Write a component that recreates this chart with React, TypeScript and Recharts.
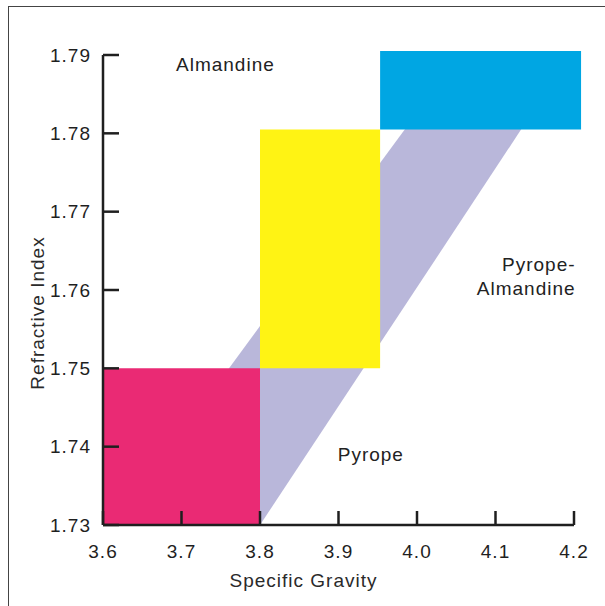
import {
  ComposedChart,
  Area,
  XAxis,
  YAxis,
  ReferenceArea,
  ReferenceDot,
} from "recharts";

// specific gravity / refractive index ranges of the garnet group
const SG_TICKS = [3.6, 3.7, 3.8, 3.9, 4.0, 4.1, 4.2];
const RI_TICKS = [1.73, 1.74, 1.75, 1.76, 1.77, 1.78, 1.79];

// pyrope-almandine band, corners
const BAND_SG = [3.614, 3.8, 3.986, 4.134];
const BAND_LOW = [1.73, 1.73, 1.7582, 1.7807];
const BAND_HIGH = [1.73, 1.7554, 1.7807, 1.7807];

const BOXES = [
  { name: "pyrope", sg: [3.6, 3.8], ri: [1.73, 1.75], color: "#ea2a74" },
  { name: "pyrope-almandine", sg: [3.8, 3.953], ri: [1.75, 1.7805], color: "#fff314" },
  { name: "almandine", sg: [3.953, 4.209], ri: [1.7805, 1.7905], color: "#00a6e3" },
];

const NOTES = [
  { sg: 3.693, ri: 1.788, text: "Almandine", anchor: "start" },
  { sg: 3.899, ri: 1.7382, text: "Pyrope", anchor: "start" },
  { sg: 4.202, ri: 1.7624, text: "Pyrope-", anchor: "end" },
  { sg: 4.202, ri: 1.7594, text: "Almandine", anchor: "end" },
];

const band = BAND_SG.map((sg, i) => ({ sg, ri: [BAND_LOW[i], BAND_HIGH[i]] }));

const INK = "#1f1f1f";
const FONT = { fontSize: 19, fill: INK };

export default function App() {
  return (
    <div
      style={{
        position: "absolute",
        left: 0,
        top: 0,
        width: 605,
        height: 606,
        background: "#fff",
        fontFamily: '"Liberation Sans", Arial, sans-serif',
        letterSpacing: 1,
      }}
    >
      <div
        style={{
          position: "absolute",
          left: 8,
          top: 6,
          right: 0,
          bottom: 0,
          borderTop: "1.5px solid #444",
          borderLeft: "1.5px solid #444",
        }}
      />
      <ComposedChart
        width={605}
        height={606}
        margin={{ top: 55, right: 31, left: 42, bottom: 21 }}
        style={{ position: "absolute", left: 0, top: 0 }}
      >
        <Area
          data={band}
          dataKey="ri"
          type="linear"
          fill="#b9b7da"
          fillOpacity={1}
          stroke="none"
          isAnimationActive={false}
        />
        {BOXES.map((b) => (
          <ReferenceArea
            key={b.name}
            x1={b.sg[0]}
            x2={b.sg[1]}
            y1={b.ri[0]}
            y2={b.ri[1]}
            fill={b.color}
            fillOpacity={1}
            stroke="none"
            ifOverflow="visible"
          />
        ))}
        {NOTES.map((n) => (
          <ReferenceDot
            key={n.text + n.ri}
            x={n.sg}
            y={n.ri}
            r={0}
            ifOverflow="visible"
            shape={(p: any) => (
              <text
                x={p.cx}
                y={p.cy}
                textAnchor={n.anchor as any}
                fontSize={19}
                fill="#222"
              >
                {n.text}
              </text>
            )}
          />
        ))}
        <XAxis
          dataKey="sg"
          type="number"
          domain={[3.6, 4.2]}
          ticks={SG_TICKS}
          allowDataOverflow
          tickFormatter={(v: number) => v.toFixed(1)}
          height={60}
          tick={FONT}
          tickSize={-14}
          tickMargin={34}
          axisLine={{ stroke: INK, strokeWidth: 2.5 }}
          tickLine={{ stroke: INK, strokeWidth: 2.5 }}
          label={{
            content: ({ viewBox }: any) => (
              <text
                x={viewBox.x + viewBox.width / 2 - 35}
                y={viewBox.y + 62}
                textAnchor="middle"
                fontSize={19}
                fill="#2a2a2a"
              >
                Specific Gravity
              </text>
            ),
          }}
        />
        <YAxis
          type="number"
          domain={[1.73, 1.79]}
          ticks={RI_TICKS}
          allowDataOverflow
          tickFormatter={(v: number) => v.toFixed(2)}
          width={61}
          tick={FONT}
          tickSize={-16}
          tickMargin={28}
          axisLine={{ stroke: INK, strokeWidth: 2.5 }}
          tickLine={{ stroke: INK, strokeWidth: 2.5 }}
          label={{
            content: ({ viewBox }: any) => {
              const x = viewBox.x + 2;
              const y = viewBox.y + viewBox.height / 2 + 23;
              return (
                <text
                  x={x}
                  y={y}
                  transform={`rotate(-90 ${x} ${y})`}
                  textAnchor="middle"
                  fontSize={19}
                  fill="#2a2a2a"
                >
                  Refractive Index
                </text>
              );
            },
          }}
        />
      </ComposedChart>
    </div>
  );
}
